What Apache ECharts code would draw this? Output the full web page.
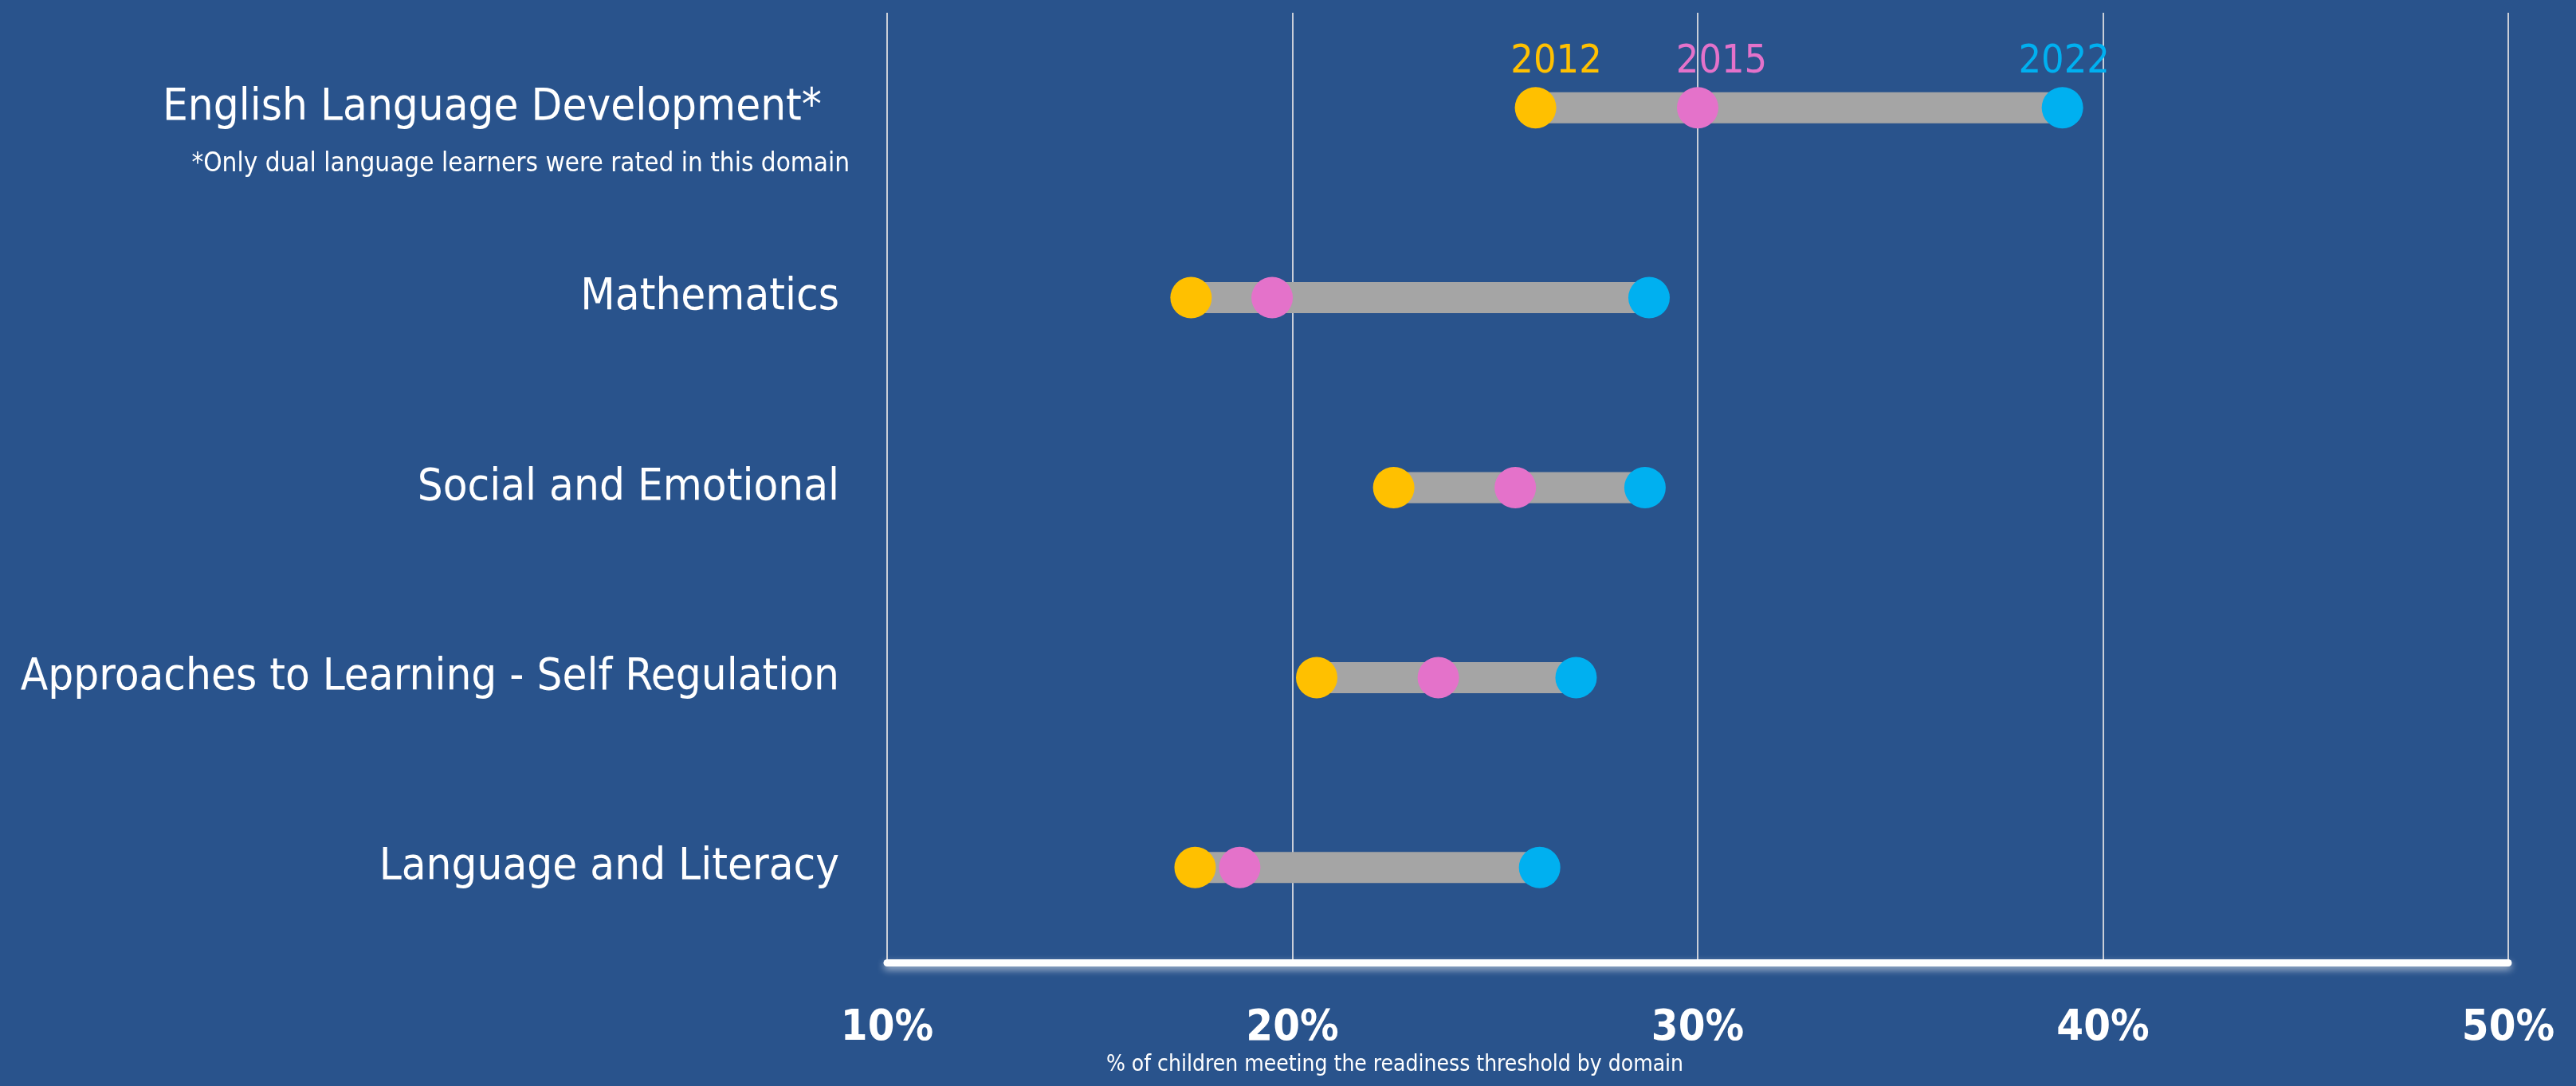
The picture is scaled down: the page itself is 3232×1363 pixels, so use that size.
<!DOCTYPE html>
<html>
<head>
<meta charset="utf-8">
<script src="https://cdn.jsdelivr.net/npm/echarts@6/dist/echarts.min.js"></script>
<style>
  html, body { margin: 0; padding: 0; background: #29538C; }
  #chart { width: 3232px; height: 1363px; }
</style>
</head>
<body>
<div id="chart"></div>
<script>
// ------------- 数据 -------------
var categories = [
    'English Language Development*',
    'Mathematics',
    'Social and Emotional',
    'Approaches to Learning - Self Regulation',
    'Language and Literacy'
];
var years = ['2012', '2015', '2022'];
var values2012 = [26.0, 17.5, 22.5, 20.6, 17.6];
var values2015 = [30.0, 19.5, 25.5, 23.6, 18.7];
var values2022 = [39.0, 28.8, 28.7, 27.0, 26.1];
var xTicks = [10, 20, 30, 40, 50];

var yearColors = ['#FFC000', '#E472CA', '#00B0F0'];
var fontName = '"Liberation Sans Narrow", "DejaVu Sans Condensed", "Roboto", sans-serif';

var chart = echarts.init(document.getElementById('chart'));

// 灰色连接条: 每行从最小值到最大值
var rangeData = categories.map(function (c, i) {
    var vals = [values2012[i], values2015[i], values2022[i]];
    return [Math.min.apply(null, vals), Math.max.apply(null, vals), i];
});

function yearSeries(name, values, color, offsetX) {
    return {
        name: name,
        type: 'scatter',
        symbolSize: 52,
        itemStyle: { color: color, opacity: 1 },
        z: 5,
        data: values.map(function (v, i) {
            var item = { value: [v, i] };
            if (i === 0) { // 只在第一行标年份
                item.label = {
                    show: true,
                    position: 'top',
                    distance: 6,
                    offset: [offsetX, 0],
                    formatter: name,
                    color: color,
                    fontFamily: fontName,
                    fontSize: 50
                };
            }
            return item;
        })
    };
}

var option = {
    backgroundColor: '#29538C',
    animation: false,
    grid: {
        left: 1113,
        right: 85,
        top: 16,
        bottom: 155,
        outerBoundsMode: 'none'
    },
    xAxis: {
        type: 'value',
        min: xTicks[0],
        max: xTicks[xTicks.length - 1],
        interval: 10,
        name: '% of children meeting the readiness threshold by domain',
        nameLocation: 'middle',
        nameGap: 114,
        nameTextStyle: {
            color: '#ffffff',
            fontFamily: fontName,
            fontSize: 28,
            padding: [0, 760, 0, 0]
        },
        axisLine: {
            show: true,
            lineStyle: {
                color: '#ffffff',
                width: 9,
                shadowColor: 'rgba(255,255,255,0.6)',
                shadowBlur: 10,
                shadowOffsetY: 4
            }
        },
        axisTick: { show: false },
        axisLabel: {
            margin: 56,
            color: '#ffffff',
            fontFamily: fontName,
            fontWeight: 'bold',
            fontSize: 54,
            formatter: '{value}%'
        },
        splitLine: {
            show: true,
            lineStyle: { color: '#C9CED8', width: 2 }
        }
    },
    yAxis: {
        type: 'category',
        data: categories,
        inverse: true,
        axisLine: { show: false },
        axisTick: { show: false },
        splitLine: { show: false },
        axisLabel: {
            margin: 60,
            color: '#ffffff',
            fontFamily: fontName,
            fontSize: 56,
            formatter: function (value, index) {
                // 第一行的标题往左缩一点，给脚注让位
                return index === 0 ? '{eld|' + value + '}' : value;
            },
            rich: {
                eld: {
                    color: '#ffffff',
                    fontFamily: fontName,
                    fontSize: 56,
                    padding: [0, 22, 0, 0]
                }
            }
        }
    },
    graphic: [{
        type: 'text',
        x: 1066,
        y: 206,
        style: {
            text: '*Only dual language learners were rated in this domain',
            fill: '#ffffff',
            font: '33px ' + fontName,
            textAlign: 'right',
            textVerticalAlign: 'middle'
        }
    }],
    series: [
        {
            name: 'range',
            type: 'custom',
            z: 2,
            renderItem: function (params, api) {
                var start = api.coord([api.value(0), api.value(2)]);
                var end = api.coord([api.value(1), api.value(2)]);
                return {
                    type: 'line',
                    shape: { x1: start[0], y1: start[1], x2: end[0], y2: end[1] },
                    style: { stroke: '#A5A5A5', lineWidth: 39 }
                };
            },
            encode: { x: [0, 1], y: 2 },
            data: rangeData
        },
        yearSeries(years[0], values2012, yearColors[0], 26),
        yearSeries(years[1], values2015, yearColors[1], 30),
        yearSeries(years[2], values2022, yearColors[2], 2)
    ]
};

chart.setOption(option);
</script>
</body>
</html>
